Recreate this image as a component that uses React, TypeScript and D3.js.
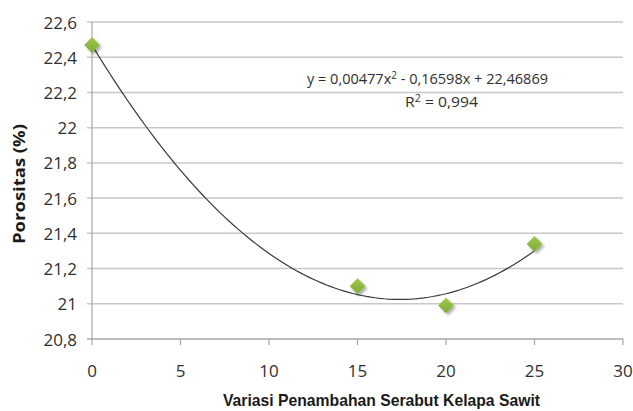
import React from "react";
import * as d3 from "d3";

const xValues = [0, 15, 20, 25];
const porositas = [22.47, 21.1, 20.99, 21.34];
const yTicks = [20.8, 21, 21.2, 21.4, 21.6, 21.8, 22, 22.2, 22.4, 22.6];
const xTicks = [0, 5, 10, 15, 20, 25, 30];
const trendCoef = [22.46869, -0.16598, 0.00477]; // c0, c1, c2 from equation label
const eqText = "y = 0,00477x";
const eqText2 = " - 0,16598x + 22,46869";
const r2Text = " = 0,994";
const xTitle = "Variasi Penambahan Serabut Kelapa Sawit";
const yTitle = "Porositas (%)";

const W = 633;
const H = 411;

export default function App() {
  const x = d3.scaleLinear().domain([0, 30]).range([92, 623]);
  const y = d3.scaleLinear().domain([20.8, 22.6]).range([339, 22]);
  const fmt = (v: number) => String(+v.toFixed(1)).replace(".", ",");

  const trendX = d3.range(0, 25.01, 0.25);
  const line = d3
    .line<number>()
    .x((d) => x(d))
    .y((d) => y(trendCoef[0] + trendCoef[1] * d + trendCoef[2] * d * d))
    .curve(d3.curveLinear);

  const font = "'Open Sans', 'Noto Sans', sans-serif";
  const diamond = d3.symbol().type(d3.symbolDiamond2).size(155)();

  return (
    <svg
      width={W}
      height={H}
      style={{ position: "absolute", left: 0, top: 0, background: "#fff" }}
    >
      <defs>
        <filter id="sh" x="-50%" y="-50%" width="200%" height="200%">
          <feGaussianBlur in="SourceAlpha" stdDeviation="1.5" />
          <feOffset dx="1.5" dy="2" result="b" />
          <feComponentTransfer>
            <feFuncA type="linear" slope="0.35" />
          </feComponentTransfer>
          <feMerge>
            <feMergeNode />
            <feMergeNode in="SourceGraphic" />
          </feMerge>
        </filter>
        <linearGradient id="gr" x1="0" y1="0" x2="0" y2="1">
          <stop offset="0" stopColor="#9cc84a" />
          <stop offset="1" stopColor="#7fab35" />
        </linearGradient>
      </defs>
      {yTicks.map((t) => (
        <g key={t}>
          <line
            x1={87}
            x2={623}
            y1={y(t)}
            y2={y(t)}
            stroke={t === 20.8 ? "#a6a6a6" : "#c8c8c8"}
            strokeWidth={1.5}
          />
          <text
            x={77}
            y={y(t)}
            textAnchor="end"
            dominantBaseline="central"
            fontFamily={font}
            fontSize={17}
            fill="#303030"
          >
            {fmt(t)}
          </text>
        </g>
      ))}
      <line x1={92} x2={92} y1={y(22.6)} y2={y(20.8)} stroke="#a6a6a6" strokeWidth={1.2} />
      {xTicks.map((t) => (
        <g key={t}>
          <line x1={x(t)} x2={x(t)} y1={339} y2={345} stroke="#a6a6a6" strokeWidth={1.2} />
          <text
            x={x(t)}
            y={370}
            textAnchor="middle"
            dominantBaseline="central"
            fontFamily={font}
            fontSize={17}
            fill="#303030"
          >
            {t}
          </text>
        </g>
      ))}
      <path d={line(trendX) || ""} fill="none" stroke="#3a3a3a" strokeWidth={1.2} />
      {xValues.map((xv, i) => (
        <path
          key={xv}
          d={diamond || ""}
          transform={`translate(${x(xv)},${y(porositas[i])})`}
          fill="url(#gr)"
          filter="url(#sh)"
        />
      ))}
      <text x={307} y={84} fontFamily={font} fontSize={14.5} fill="#303030" textLength={241} lengthAdjust="spacingAndGlyphs">
        {eqText}
        <tspan dy={-5} fontSize={10}>2</tspan>
        <tspan dy={5}>{eqText2}</tspan>
      </text>
      <text x={405} y={107} fontFamily={font} fontSize={14.5} fill="#303030" textLength={73} lengthAdjust="spacingAndGlyphs">
        R<tspan dy={-5} fontSize={10}>2</tspan>
        <tspan dy={5}>{r2Text}</tspan>
      </text>
      <text
        transform={`translate(25,184) rotate(-90)`}
        textAnchor="middle"
        fontFamily={font}
        fontWeight="bold"
        fontSize={16}
        fill="#1a1a1a"
        textLength={120}
        lengthAdjust="spacingAndGlyphs"
      >
        {yTitle}
      </text>
      <text
        x={223}
        y={406}
        textLength={317}
        lengthAdjust="spacingAndGlyphs"
        fontFamily="'Liberation Sans Narrow', 'Liberation Sans', Arial, sans-serif"
        fontWeight="bold"
        fontSize={17}
        fill="#1a1a1a"
      >
        {xTitle}
      </text>
    </svg>
  );
}
